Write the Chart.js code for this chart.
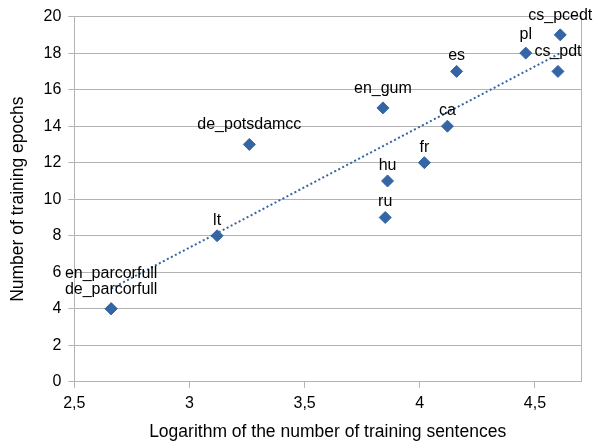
<!DOCTYPE html>
<html>
<head>
<meta charset="utf-8">
<script src="https://cdn.jsdelivr.net/npm/chart.js@4/dist/chart.umd.min.js"></script>
<style>
  body { margin: 0; background: #fff; }
  #wrap { width: 595px; height: 443px; }
</style>
</head>
<body>
<div id="wrap"><canvas id="epochChart"></canvas></div>
<script>
// Treebank names, log10 of training sentences, training epochs
let treebanks = ['en_parcorfull', 'de_parcorfull', 'lt', 'de_potsdamcc', 'en_gum', 'hu', 'ru', 'fr', 'ca', 'es', 'pl', 'cs_pdt', 'cs_pcedt'];
let logSentences = [2.66, 2.66, 3.12, 3.26, 3.84, 3.86, 3.85, 4.02, 4.12, 4.16, 4.46, 4.60, 4.61];
let epochs = [4, 4, 8, 13, 15, 11, 9, 12, 14, 17, 18, 17, 19];

// Trend line endpoints
let trendX = [2.66, 4.61];
let trendY = [5.1, 18.0];

let xTicks = [2.5, 3, 3.5, 4, 4.5];

const blue = '#3465a4';
const font = 'Liberation Sans';

// labels above each point, ink bottom sits a fixed gap above the marker
// (the two parcorfull points share one stacked label)
const pointLabels = {
    id: 'pointLabels',
    afterDatasetsDraw(chart) {
        let ctx = chart.ctx;
        let meta = chart.getDatasetMeta(0);
        ctx.save();
        ctx.font = '16px "' + font + '"';
        ctx.fillStyle = '#000';
        ctx.textAlign = 'center';
        ctx.textBaseline = 'alphabetic';
        let put = (text, x, y) => {
            let d = Math.max(0, ctx.measureText(text).actualBoundingBoxDescent);
            ctx.fillText(text, x, y - 11 - d);
        };
        meta.data.forEach((pt, i) => {
            if (treebanks[i] === 'en_parcorfull') return;
            if (treebanks[i] === 'de_parcorfull') {
                put('de_parcorfull', pt.x, pt.y);
                ctx.fillText('en_parcorfull', pt.x, pt.y - 31);
                return;
            }
            put(treebanks[i], pt.x, pt.y);
        });
        ctx.restore();
    }
};

// right edge of the plot area
const rightBorder = {
    id: 'rightBorder',
    beforeDatasetsDraw(chart) {
        let a = chart.chartArea;
        let ctx = chart.ctx;
        ctx.save();
        ctx.strokeStyle = '#b3b3b3';
        ctx.lineWidth = 1;
        ctx.beginPath();
        ctx.moveTo(Math.round(a.right) + 0.5, a.top);
        ctx.lineTo(Math.round(a.right) + 0.5, a.bottom);
        ctx.stroke();
        ctx.restore();
    }
};

new Chart(document.getElementById('epochChart'), {
    type: 'scatter',
    data: {
        datasets: [{
            label: 'Epochs',
            data: logSentences.map((x, i) => ({ x: x, y: epochs[i] })),
            backgroundColor: blue,
            borderColor: blue,
            pointStyle: 'rectRot',
            pointRadius: 6,
            pointHoverRadius: 6,
            order: 1
        }, {
            label: 'Trend',
            type: 'line',
            data: trendX.map((x, i) => ({ x: x, y: trendY[i] })),
            borderColor: blue,
            borderWidth: 2,
            borderDash: [2, 2.5],
            pointRadius: 0,
            fill: false,
            order: 2
        }]
    },
    options: {
        responsive: true,
        maintainAspectRatio: false,
        animation: false,
        layout: { padding: { top: 2, right: 14, left: 0, bottom: 0 } },
        plugins: {
            legend: { display: false },
            tooltip: { enabled: false }
        },
        scales: {
            x: {
                type: 'linear',
                min: 2.5,
                max: 4.7,
                afterBuildTicks: axis => { axis.ticks = xTicks.map(v => ({ value: v })); },
                grid: { drawOnChartArea: false, color: '#b3b3b3', tickLength: 6 },
                border: { color: '#b3b3b3' },
                ticks: {
                    color: '#000',
                    font: { family: font, size: 16 },
                    padding: 6,
                    callback: v => String(v).replace('.', ',')
                },
                title: {
                    display: true,
                    text: 'Logarithm of the number of training sentences',
                    color: '#000',
                    font: { family: font, size: 17.5 },
                    padding: { top: 3, bottom: 0 }
                }
            },
            y: {
                min: 0,
                max: 20,
                ticks: {
                    stepSize: 2,
                    color: '#000',
                    font: { family: font, size: 16 },
                    padding: 7
                },
                grid: { color: '#b3b3b3', tickLength: 6 },
                border: { color: '#b3b3b3' },
                title: {
                    display: true,
                    text: 'Number of training epochs',
                    color: '#000',
                    font: { family: font, size: 17.5 },
                    padding: { top: 7.5, bottom: 8 }
                }
            }
        }
    },
    plugins: [pointLabels, rightBorder]
});
</script>
</body>
</html>
